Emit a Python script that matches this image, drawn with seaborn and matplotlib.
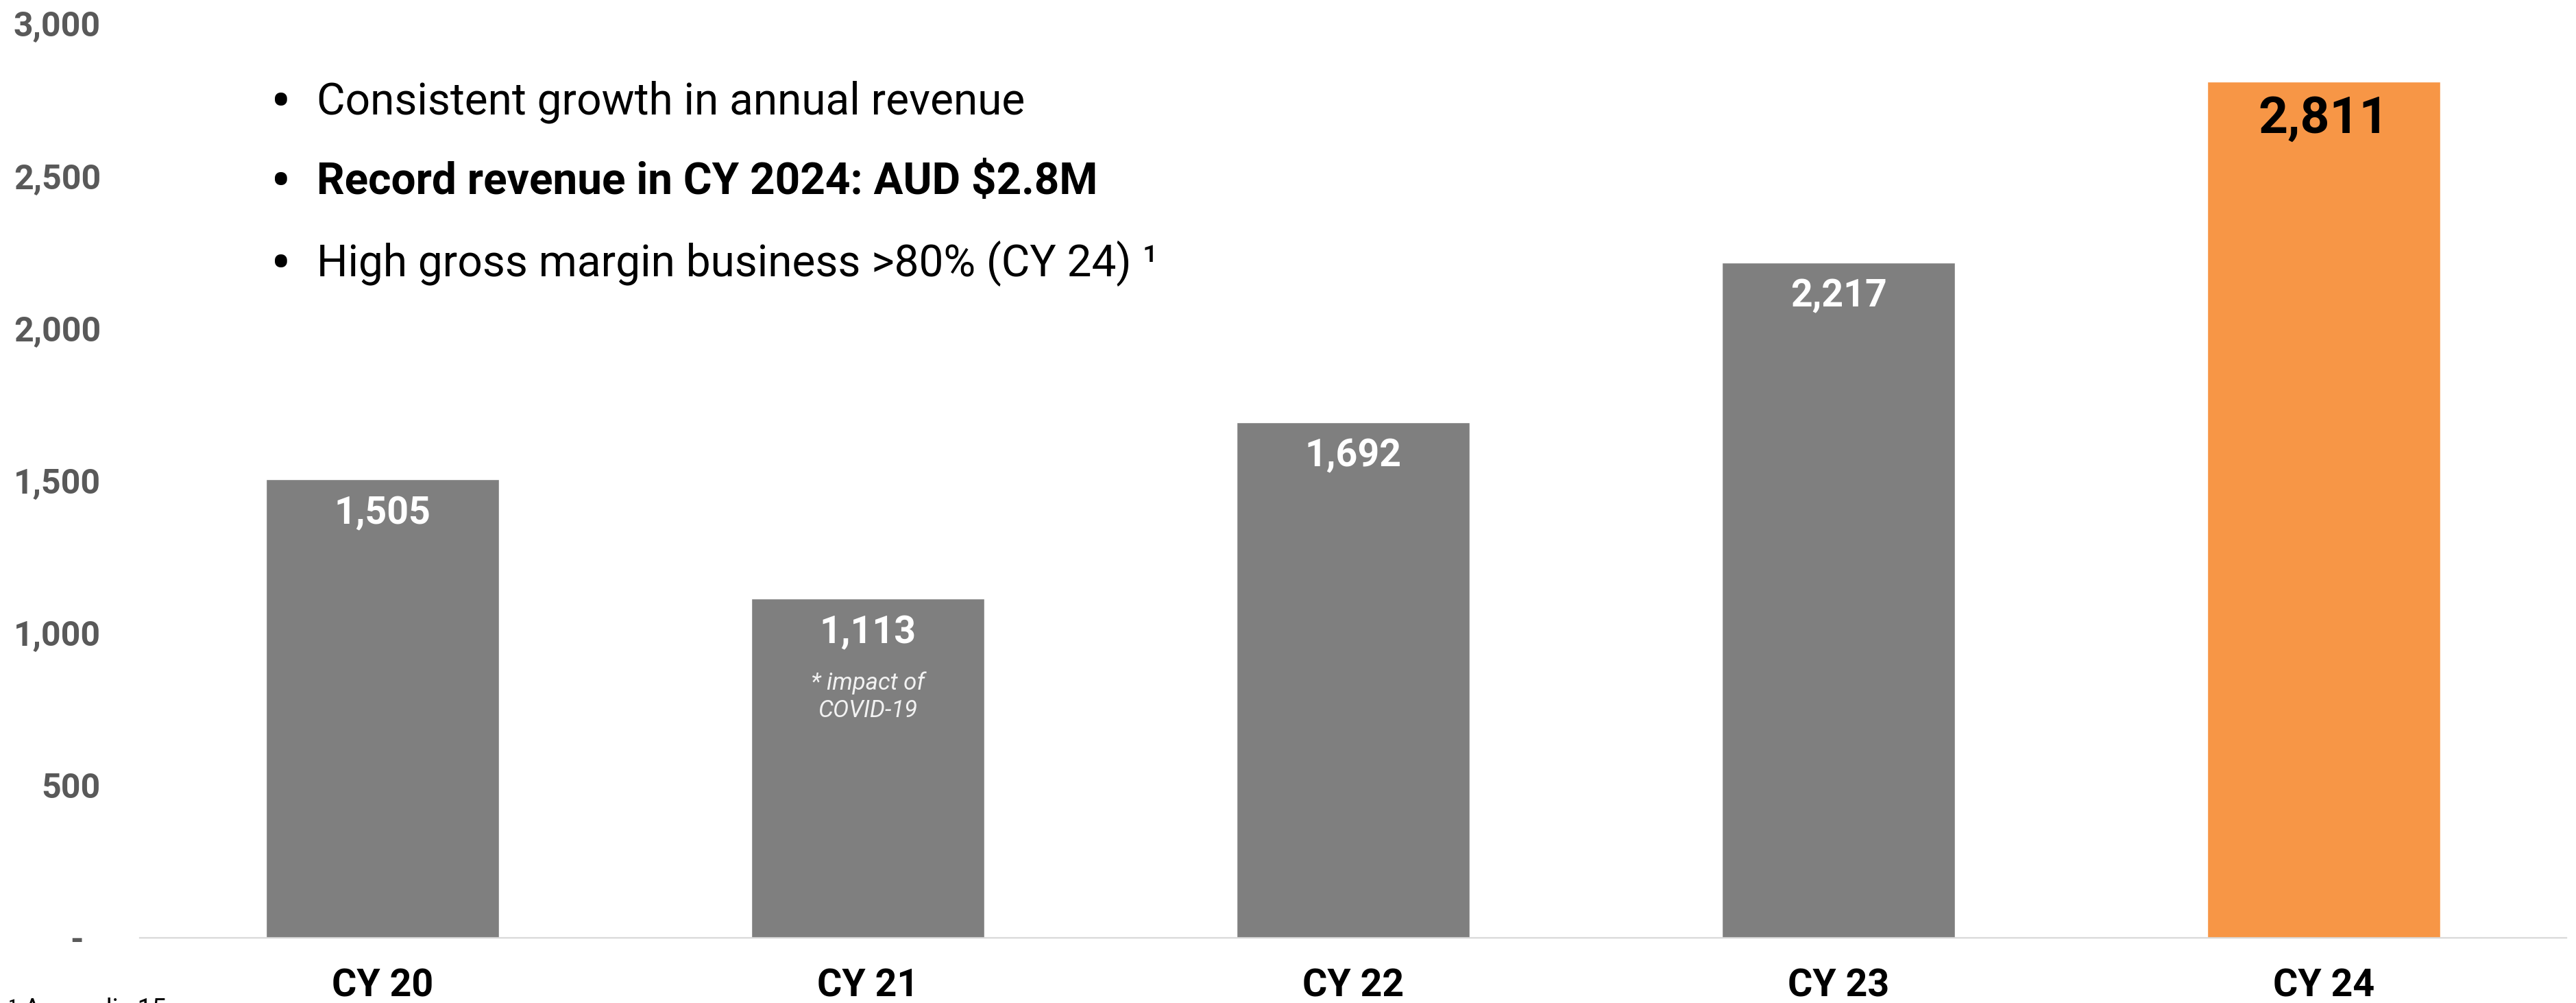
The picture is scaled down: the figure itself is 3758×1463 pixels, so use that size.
import matplotlib

matplotlib.use("Agg")

import matplotlib.pyplot as plt
import pandas as pd
import seaborn as sns

years = ["CY 20", "CY 21", "CY 22", "CY 23", "CY 24"]
revenue = [1505, 1113, 1692, 2217, 2811]
bar_colours = ["#7f7f7f", "#7f7f7f", "#7f7f7f", "#7f7f7f", "#f79646"]
y_ticks = [0, 500, 1000, 1500, 2000, 2500, 3000]
y_tick_labels = ["-  ", "500", "1,000", "1,500", "2,000", "2,500", "3,000"]
bullets = [
    ("Consistent growth in annual revenue", "normal"),
    ("Record revenue in CY 2024: AUD \\$2.8M", "bold"),
    ("High gross margin business >80% (CY 24) ¹", "normal"),
]
covid_note = "* impact of\nCOVID-19"
footnote = "¹ Appendix 15"

sns.set_theme(style="white")
plt.rcParams["font.family"] = ["Roboto", "DejaVu Sans"]

W, H = 3758, 1463
fig = plt.figure(figsize=(W / 100, H / 100), dpi=100)
ax = fig.add_axes([204 / W, 1 - 1368 / H, (3744 - 204) / W, (1368 - 35) / H])

df = pd.DataFrame({"year": years, "revenue": revenue})
sns.barplot(
    data=df,
    x="year",
    y="revenue",
    hue="year",
    palette=dict(zip(years, bar_colours)),
    width=0.48,
    saturation=1,
    legend=False,
    ax=ax,
)

ax.set_xlim(-0.5, 4.5)
ax.set_ylim(0, 3000)
ax.set_yticks(y_ticks)
ax.set_yticklabels(y_tick_labels)
ax.set_xlabel("")
ax.set_ylabel("")
ax.tick_params(axis="y", length=0, pad=41, labelsize=36, labelcolor="#595959")
ax.tick_params(axis="x", length=0, pad=32, labelsize=40, labelcolor="black")
for lab in ax.get_yticklabels():
    lab.set_fontweight("bold")
for lab in ax.get_xticklabels():
    lab.set_fontweight("bold")

for side in ["top", "right", "left"]:
    ax.spines[side].set_visible(False)
ax.spines["bottom"].set_color("#d9d9d9")
ax.spines["bottom"].set_linewidth(1.6)
ax.grid(False)

# value labels inside the bars
for i, val in enumerate(revenue):
    last = i == len(revenue) - 1
    ax.annotate(
        f"{val:,}",
        xy=(i, val),
        xytext=(0, -14 if last else -17),
        textcoords="offset points",
        ha="center",
        va="top",
        fontsize=54 if last else 40,
        fontweight="bold",
        color="black" if last else "white",
    )

ax.annotate(
    covid_note,
    xy=(1, revenue[1]),
    xytext=(0, -76),
    textcoords="offset points",
    ha="center",
    va="top",
    fontsize=25,
    fontstyle="italic",
    color="#f2f2f2",
    linespacing=1.25,
)

baselines = [167, 283, 403]
for (text, weight), base in zip(bullets, baselines):
    fig.text(410 / W, 1 - (base + 10) / H, "•", fontsize=64, ha="center",
             va="baseline", color="black")
    fig.text(462 / W, 1 - base / H, text, fontsize=46, fontweight=weight,
             ha="left", va="baseline", color="black")

fig.text(12 / W, 1 - 1455 / H, footnote, fontsize=27, ha="left", va="top",
         color="black")

fig.savefig("out.png", dpi=100)
